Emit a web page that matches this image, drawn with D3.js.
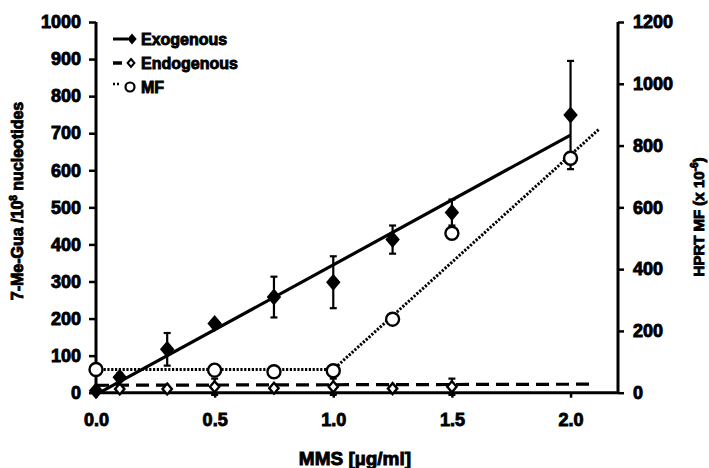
<!DOCTYPE html>
<html><head><meta charset="utf-8">
<script src="https://cdn.jsdelivr.net/npm/d3@7"></script>
<style>
body{margin:0;background:#fff;}
text{font-family:"Liberation Sans",Arial,sans-serif;font-weight:bold;fill:#000;}
</style></head>
<body><svg id="c" width="709" height="468"></svg>
<script>
// ---- data ----
const doses = [0, 0.1, 0.3, 0.5, 0.75, 1.0, 1.25, 1.5, 2.0];
const exoValues = [5, 42, 117, 187, 258, 298, 413, 486, 749];
const exoErrors = [3, 10, 44, 8, 55, 70, 38, 35, 146];
const endoDoses = [0, 0.1, 0.3, 0.5, 0.75, 1.0, 1.25, 1.5];
const endoValues = [5, 10, 10, 16, 12, 16, 11, 16];
const endoErrors = [3, 6, 3, 22, 4, 22, 6, 22];
const mfDoses = [0, 0.5, 0.75, 1.0, 1.25, 1.5, 2.0];
const mfValues = [75, 73, 68, 71, 238, 516, 759];
// fitted lines (endpoints)
const exoFit = [[0.015, 0], [2.0, 695]];
const endoFit = [[0, 20], [2.1, 23]];
const mfFit = [[0, 75], [1.0, 75], [2.12, 853]];
const xTicks = [0, 0.5, 1.0, 1.5, 2.0];
const yLeftTicks = [0, 100, 200, 300, 400, 500, 600, 700, 800, 900, 1000];
const yRightTicks = [0, 200, 400, 600, 800, 1000, 1200];
const legendLabels = ["Exogenous", "Endogenous", "MF"];

const svg = d3.select("#c");
const x = d3.scaleLinear().domain([0, 2.2]).range([96, 618]);
const yL = d3.scaleLinear().domain([0, 1000]).range([392.7, 22]);
const yR = d3.scaleLinear().domain([0, 1200]).range([392.7, 22]);

const thick = s => s.attr("stroke", "#000").attr("stroke-width", 0.9).attr("paint-order", "stroke");

// axes
const axL = svg.append("g").attr("transform", `translate(${x(0)},0)`)
  .call(d3.axisLeft(yL).tickValues(yLeftTicks).tickSize(7).tickPadding(8).tickFormat(d3.format("d")));
const axR = svg.append("g").attr("transform", `translate(${x(2.2)},0)`)
  .call(d3.axisRight(yR).tickValues(yRightTicks).tickSize(6).tickPadding(9).tickFormat(d3.format("d")));
const axB = svg.append("g").attr("transform", `translate(0,${yL(0)})`)
  .call(d3.axisBottom(x).tickValues(xTicks).tickSize(5).tickPadding(16).tickFormat(d3.format(".1f")));
[axL, axR, axB].forEach(g => {
  g.select(".domain").attr("stroke", "#000").attr("stroke-width", 3);
  g.selectAll(".tick line").attr("stroke", "#000").attr("stroke-width", 2.5);
  g.selectAll(".tick text").style("font-size", "18px").call(thick);
});
axL.select(".domain").attr("d", `M0,${yL(1000)}V${yL(0)}`);
axR.select(".domain").attr("d", `M0,${yR(1200)}V${yR(0)}`);
axB.select(".domain").attr("d", `M${x(0)-2},0H${x(2.2)}`);

// titles
svg.append("text").attr("x", 355).attr("y", 465).attr("text-anchor", "middle")
  .style("font-size", "19px").text("MMS [µg/ml]").call(thick);
const lt = svg.append("text").attr("transform", "translate(23,201) rotate(-90)")
  .attr("text-anchor", "middle").style("font-size", "16px").call(thick);
lt.append("tspan").text("7-Me-Gua /10");
lt.append("tspan").attr("dy", -6).style("font-size", "10px").text("8");
lt.append("tspan").attr("dy", 6).text(" nucleotides");
const rt = svg.append("text").attr("transform", "translate(704,217) rotate(-90)")
  .attr("text-anchor", "middle").style("font-size", "15px").call(thick);
rt.append("tspan").text("HPRT MF (x 10");
rt.append("tspan").attr("dy", -6).style("font-size", "10px").text("-6");
rt.append("tspan").attr("dy", 6).text(")");

const line = (ys) => d3.line().x(d => x(d[0])).y(d => ys(d[1]));

// fit lines
svg.append("path").datum(mfFit).attr("d", line(yR)).attr("fill", "none")
  .attr("stroke", "#000").attr("stroke-width", 3).attr("stroke-dasharray", "2.2,1.6");
svg.append("path").datum(endoFit).attr("d", line(yL)).attr("fill", "none")
  .attr("stroke", "#000").attr("stroke-width", 3.2).attr("stroke-dasharray", "13,7");
svg.append("path").datum(exoFit).attr("d", line(yL)).attr("fill", "none")
  .attr("stroke", "#000").attr("stroke-width", 3.2);

// error bars
function errBars(xs, vs, es) {
  const g = svg.append("g").attr("stroke", "#000").attr("stroke-width", 2.2);
  xs.forEach((d, i) => {
    const cx = x(d), t = yL(vs[i] + es[i]), b = yL(vs[i] - es[i]);
    g.append("line").attr("x1", cx).attr("x2", cx).attr("y1", t).attr("y2", b);
    g.append("line").attr("x1", cx - 3.5).attr("x2", cx + 3.5).attr("y1", t).attr("y2", t);
    g.append("line").attr("x1", cx - 3.5).attr("x2", cx + 3.5).attr("y1", b).attr("y2", b);
  });
}
errBars(endoDoses, endoValues, endoErrors);
errBars(doses, exoValues, exoErrors);

const diamond = (r) => `M0,${-r}L${r*0.85},0L0,${r}L${-r*0.85},0Z`;

// MF circles
svg.append("g").selectAll("circle").data(mfDoses).join("circle")
  .attr("cx", d => x(d)).attr("cy", (d, i) => yR(mfValues[i])).attr("r", 6.5)
  .attr("fill", "#fff").attr("stroke", "#000").attr("stroke-width", 2.4);
// endogenous open diamonds
svg.append("g").selectAll("path").data(endoDoses).join("path")
  .attr("transform", (d, i) => `translate(${x(d)},${yL(endoValues[i])})`)
  .attr("d", diamond(5.5)).attr("fill", "#fff").attr("stroke", "#000").attr("stroke-width", 2.4);
// exogenous filled diamonds
svg.append("g").selectAll("path").data(doses).join("path")
  .attr("transform", (d, i) => `translate(${x(d)},${yL(exoValues[i])})`)
  .attr("d", diamond(8.5)).attr("fill", "#000");

// legend
const lg = svg.append("g");
const rows = [39, 63, 87];
legendLabels.forEach((lab, i) => {
  const y = rows[i];
  if (i === 0) {
    lg.append("line").attr("x1", 113).attr("x2", 128).attr("y1", y).attr("y2", y).attr("stroke", "#000").attr("stroke-width", 3);
    lg.append("path").attr("transform", `translate(132,${y})`).attr("d", diamond(5.5)).attr("fill", "#000");
  } else if (i === 1) {
    lg.append("line").attr("x1", 113).attr("x2", 122).attr("y1", y).attr("y2", y).attr("stroke", "#000").attr("stroke-width", 3.5);
    lg.append("path").attr("transform", `translate(131,${y})`).attr("d", diamond(4)).attr("fill", "#fff").attr("stroke", "#000").attr("stroke-width", 2);
  } else {
    lg.append("line").attr("x1", 113).attr("x2", 121).attr("y1", y - 3).attr("y2", y - 3).attr("stroke", "#000").attr("stroke-width", 2.5).attr("stroke-dasharray", "2,2");
    lg.append("circle").attr("cx", 130).attr("cy", y).attr("r", 4.5).attr("fill", "#fff").attr("stroke", "#000").attr("stroke-width", 2.2);
  }
  lg.append("text").attr("x", 141).attr("y", y).attr("dy", "0.36em").style("font-size", "16px").text(lab).call(thick);
});
</script></body></html>
